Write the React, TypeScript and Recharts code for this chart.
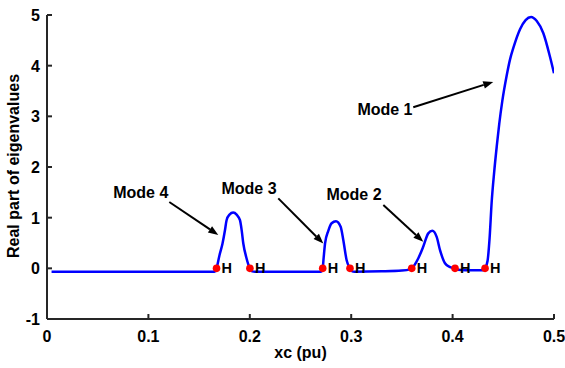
import React from "react";
import {
  ComposedChart,
  Line,
  Scatter,
  XAxis,
  YAxis,
  ReferenceLine,
  ReferenceDot,
} from "recharts";

// sweep of xc (pu) and the real part of the critical eigenvalue
const xc = [
  0.0045, 0.05, 0.1, 0.15, 0.165,
  0.1672, 0.17, 0.1731, 0.1755, 0.1771, 0.18, 0.1836, 0.187, 0.1903, 0.192, 0.1936, 0.1965, 0.2001,
  0.2025, 0.205, 0.25, 0.27,
  0.2719, 0.2728, 0.2742, 0.2774, 0.2807, 0.285, 0.2896, 0.2922, 0.2955, 0.2988,
  0.301, 0.303, 0.33, 0.35, 0.358,
  0.3597, 0.3662, 0.3711, 0.376, 0.38, 0.3843, 0.3876, 0.3925, 0.397, 0.4024,
  0.405, 0.42, 0.43,
  0.432, 0.4345, 0.4365, 0.4385, 0.441, 0.4435, 0.446, 0.449, 0.4533, 0.4566, 0.4599, 0.4665, 0.472, 0.4774, 0.483, 0.4895, 0.4961, 0.5,
];
const realPart = [
  -0.067, -0.067, -0.067, -0.067, -0.067,
  0, 0.25, 0.49, 0.75, 0.95, 1.06, 1.1, 1.06, 0.95, 0.75, 0.49, 0.22, 0,
  -0.06, -0.067, -0.067, -0.067,
  0, 0.2, 0.49, 0.74, 0.89, 0.93, 0.82, 0.56, 0.16, 0,
  -0.06, -0.067, -0.06, -0.045, -0.02,
  0, 0.2, 0.43, 0.69, 0.74, 0.62, 0.36, 0.1, 0.03, 0,
  -0.03, -0.04, -0.04,
  0, 0.15, 0.6, 1.3, 1.9, 2.4, 2.85, 3.3, 3.8, 4.12, 4.35, 4.72, 4.9, 4.96, 4.88, 4.64, 4.17, 3.85,
];

// Hopf bifurcation points
const hopfX = [0.1672, 0.2001, 0.2719, 0.2988, 0.3597, 0.4024, 0.432];
const hopfY = [0, 0, 0, 0, 0, 0, 0];

const xTicks = [0, 0.1, 0.2, 0.3, 0.4, 0.5];
const yTicks = [-1, 0, 1, 2, 3, 4, 5];

// annotations (data coordinates)
const modeNames = ["Mode 1", "Mode 2", "Mode 3", "Mode 4"];
const modeTextX = [0.3333, 0.3028, 0.1992, 0.0925];
const modeTextY = [3.14, 1.45, 1.58, 1.49];
const arrowFromX = [0.3612, 0.3317, 0.2281, 0.1206];
const arrowFromY = [3.18, 1.25, 1.38, 1.31];
const arrowToX = [0.4401, 0.3711, 0.2725, 0.1689];
const arrowToY = [3.68, 0.525, 0.49, 0.66];

const curve = xc.map((x, i) => ({ x, y: realPart[i] }));
const hopf = hopfX.map((x, i) => ({ x, y: hopfY[i] }));

const FONT = "'Liberation Sans', Arial, Helvetica, sans-serif";
const AXIS = "#262626";

const XTick = (props: any) => {
  const { x, y, payload } = props;
  return (
    <g>
      <line x1={x} y1={y} x2={x} y2={y - 5} stroke={AXIS} strokeWidth={2} />
      <text x={x} y={y + 23} textAnchor="middle" fontFamily={FONT} fontWeight="bold" fontSize={16} fill="#000">
        {String(payload.value)}
      </text>
    </g>
  );
};

const YTick = (props: any) => {
  const { x, y, payload } = props;
  return (
    <g>
      <line x1={x} y1={y} x2={x + 5} y2={y} stroke={AXIS} strokeWidth={2} />
      <text x={x - 7} y={y + 6} textAnchor="end" fontFamily={FONT} fontWeight="bold" fontSize={16} fill="#000">
        {String(payload.value)}
      </text>
    </g>
  );
};

const HopfMark = (props: any) => {
  const { cx, cy } = props;
  return (
    <g>
      <circle cx={cx} cy={cy} r={3.8} fill="#ff0000" />
      <text x={cx + 5} y={cy + 5} fontFamily={FONT} fontWeight="bold" fontSize={14.5} fill="#000">
        H
      </text>
    </g>
  );
};

const Arrow = (props: any) => {
  const { x1, y1, x2, y2 } = props;
  const dx = x2 - x1;
  const dy = y2 - y1;
  const len = Math.sqrt(dx * dx + dy * dy);
  const ux = dx / len;
  const uy = dy / len;
  const head = 10;
  const half = 3.8;
  const bx = x2 - ux * head;
  const by = y2 - uy * head;
  return (
    <g>
      <line x1={x1} y1={y1} x2={bx} y2={by} stroke="#000" strokeWidth={2} />
      <polygon
        points={`${x2},${y2} ${bx - uy * half},${by + ux * half} ${bx + uy * half},${by - ux * half}`}
        fill="#000"
      />
    </g>
  );
};

export default function App() {
  return (
    <div style={{ position: "absolute", left: 0, top: 0, background: "#fff" }}>
      <ComposedChart width={565} height={368} margin={{ top: 15, right: 11, bottom: 0, left: 0 }}>
        <XAxis
          type="number"
          dataKey="x"
          domain={[0, 0.5]}
          ticks={xTicks}
          height={49}
          tickSize={0}
          tickMargin={0}
          tickLine={false}
          axisLine={{ stroke: AXIS, strokeWidth: 2 }}
          tick={<XTick />}
          interval={0}
          allowDataOverflow
          label={{
            content: (p: any) => {
              const vb = p.viewBox;
              return (
                <text x={vb.x + vb.width / 2} y={vb.y + 39} textAnchor="middle" fontFamily={FONT} fontWeight="bold" fontSize={16} fill="#000">
                  xc (pu)
                </text>
              );
            },
          }}
        />
        <YAxis
          type="number"
          dataKey="y"
          domain={[-1, 5]}
          ticks={yTicks}
          width={47}
          tickSize={0}
          tickMargin={0}
          tickLine={false}
          axisLine={{ stroke: AXIS, strokeWidth: 2 }}
          tick={<YTick />}
          interval={0}
          allowDataOverflow
          label={{
            content: (p: any) => {
              const vb = p.viewBox;
              const cx = vb.x + 13;
              const cy = vb.y + vb.height / 2 - 1;
              return (
                <text
                  x={cx}
                  y={cy}
                  transform={`rotate(-90 ${cx} ${cy})`}
                  textAnchor="middle"
                  dominantBaseline="central"
                  fontFamily={FONT}
                  fontWeight="bold"
                  fontSize={16}
                  fill="#000"
                >
                  Real part of eigenvalues
                </text>
              );
            },
          }}
        />
        <Line
          data={curve}
          dataKey="y"
          type="monotone"
          stroke="#0000ff"
          strokeWidth={2.5}
          dot={false}
          activeDot={false}
          isAnimationActive={false}
        />
        <Scatter data={hopf} dataKey="y" shape={<HopfMark />} isAnimationActive={false} />
        {modeNames.map((name, i) => (
          <ReferenceLine
            key={"a" + name}
            segment={[
              { x: arrowFromX[i], y: arrowFromY[i] },
              { x: arrowToX[i], y: arrowToY[i] },
            ]}
            shape={<Arrow />}
          />
        ))}
        {modeNames.map((name, i) => (
          <ReferenceDot
            key={"t" + name}
            x={modeTextX[i]}
            y={modeTextY[i]}
            r={0}
            shape={(p: any) => (
              <text x={p.cx} y={p.cy + 5.5} textAnchor="middle" fontFamily={FONT} fontWeight="bold" fontSize={16} fill="#000">
                {name}
              </text>
            )}
          />
        ))}
      </ComposedChart>
    </div>
  );
}
